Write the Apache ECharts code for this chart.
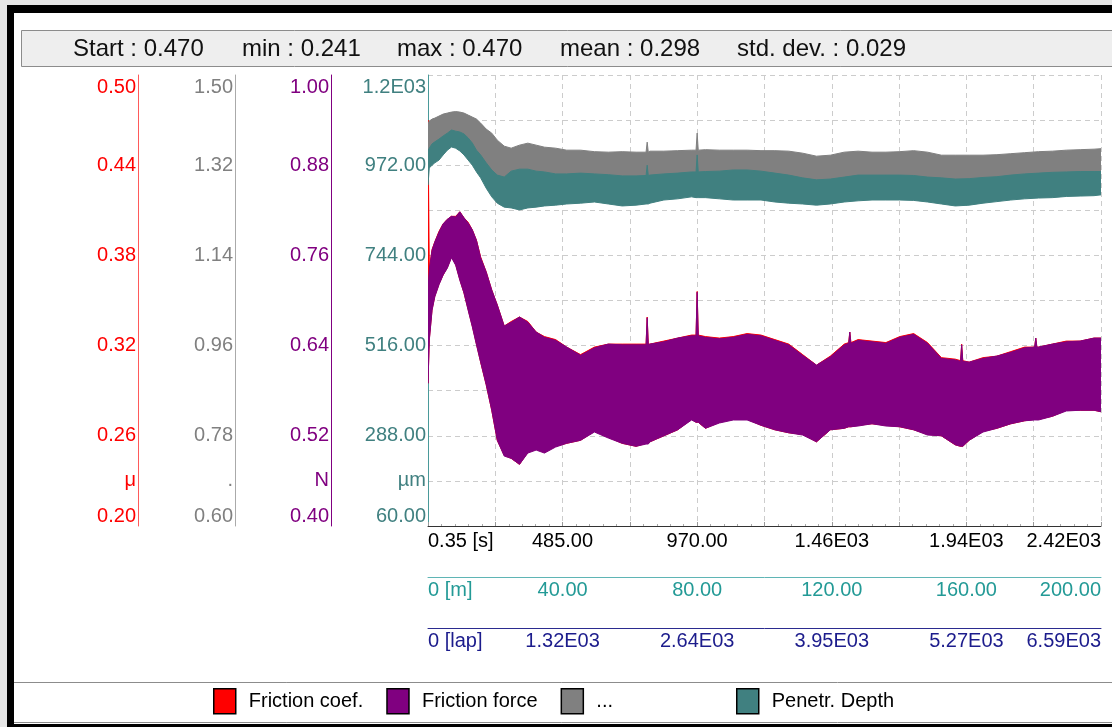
<!DOCTYPE html>
<html>
<head>
<meta charset="utf-8">
<script src="https://cdn.jsdelivr.net/npm/echarts@6/dist/echarts.min.js"></script>
<style>
html,body{margin:0;padding:0;background:#fff;}
#chart{width:1112px;height:727px;}
</style>
</head>
<body>
<div id="chart"></div>
<script>
// ---------- data ----------
const depthTime = [0.35,5,15,25,40,55,70,85,100,115,130,145,160,175,190,210,230,250,275,300,330,360,390,420,460,500,550,600,650,700,750,786,790,794,800,850,900,950,966,970,974,1000,1050,1100,1150,1200,1250,1300,1350,1400,1450,1500,1550,1600,1650,1700,1750,1800,1850,1900,1950,2000,2050,2100,2150,2200,2250,2300,2350,2400,2425];
const auxHigh = [1.402,1.408,1.412,1.414,1.418,1.422,1.424,1.426,1.427,1.426,
  1.424,1.420,1.416,1.412,1.404,1.392,1.384,1.370,1.358,1.354,
  1.360,1.364,1.360,1.356,1.354,1.350,1.350,1.347,1.346,1.347,
  1.346,1.346,1.366,1.346,1.348,1.348,1.349,1.350,1.350,1.384,
  1.350,1.351,1.350,1.350,1.350,1.349,1.349,1.348,1.344,1.338,
  1.340,1.346,1.348,1.346,1.346,1.347,1.349,1.346,1.340,1.340,
  1.340,1.340,1.341,1.343,1.345,1.347,1.348,1.350,1.351,1.352,1.353];
const auxLow = [1.344,1.348,1.356,1.360,1.366,1.372,1.378,1.384,1.382,1.380,
  1.376,1.368,1.358,1.344,1.334,1.318,1.304,1.294,1.290,1.302,
  1.306,1.306,1.302,1.300,1.296,1.296,1.298,1.296,1.295,1.292,
  1.292,1.293,1.293,1.293,1.294,1.296,1.298,1.300,1.300,1.300,
  1.300,1.301,1.302,1.304,1.304,1.302,1.298,1.294,1.288,1.284,
  1.286,1.290,1.294,1.294,1.294,1.294,1.293,1.290,1.288,1.286,
  1.287,1.289,1.291,1.294,1.296,1.298,1.299,1.300,1.301,1.301,1.301];
const depthHigh = [1010,1015,1026,1031,1038,1046,1053,1061,1058,1056,
  1051,1041,1028,1010,998,978,960,947,942,957,
  962,962,957,955,950,950,952,950,948,945,
  945,946,972,946,947,950,952,955,955,998,
  955,956,957,960,960,957,952,947,940,935,
  937,942,947,947,947,947,946,942,940,937,
  938,941,943,947,950,952,954,955,956,956,956];
const depthLow = [922,965,972,978,985,998,1010,1018,1015,1008,
  998,985,972,955,940,914,892,876,866,864,
  859,864,866,869,871,874,876,879,874,869,
  871,874,874,874,876,884,887,892,890,890,
  890,890,887,884,884,884,879,876,874,871,
  874,879,882,884,884,884,883,879,874,869,
  871,876,880,884,887,889,890,893,894,895,897];

const forceTime = [0.35,5,15,25,40,55,70,85,100,115,130,145,160,175,190,210,230,250,275,300,330,360,390,420,460,500,550,600,650,700,750,786,790,794,800,850,900,950,966,970,974,1000,1050,1100,1150,1200,1250,1300,1350,1400,1450,1500,1516,1520,1524,1550,1600,1650,1700,1750,1800,1850,1900,1919,1923,1927,1950,2000,2050,2100,2150,2186,2190,2194,2200,2250,2300,2350,2400,2425];
const forceHigh = [0.714,0.741,0.767,0.778,0.791,0.802,0.808,0.812,0.811,0.818,
  0.810,0.803,0.794,0.780,0.757,0.738,0.714,0.694,0.666,0.671,
  0.678,0.671,0.658,0.651,0.647,0.638,0.627,0.637,0.642,0.641,
  0.641,0.641,0.677,0.641,0.642,0.645,0.650,0.653,0.653,0.711,
  0.653,0.651,0.649,0.651,0.655,0.653,0.647,0.641,0.627,0.614,
  0.625,0.641,0.643,0.658,0.643,0.647,0.645,0.643,0.651,0.655,
  0.643,0.623,0.621,0.619,0.641,0.619,0.618,0.623,0.626,0.631,
  0.637,0.638,0.650,0.638,0.638,0.642,0.645,0.646,0.650,0.650];
const forceLow = [0.590,0.647,0.687,0.705,0.721,0.734,0.743,0.757,0.747,0.727,
  0.710,0.687,0.665,0.641,0.618,0.588,0.554,0.514,0.493,0.490,
  0.482,0.497,0.501,0.497,0.505,0.510,0.514,0.525,0.517,0.510,
  0.506,0.509,0.509,0.509,0.512,0.520,0.528,0.541,0.538,0.538,
  0.538,0.530,0.537,0.541,0.541,0.534,0.528,0.524,0.521,0.512,
  0.528,0.530,0.532,0.532,0.532,0.533,0.536,0.533,0.532,0.528,
  0.521,0.520,0.508,0.506,0.506,0.506,0.514,0.525,0.530,0.536,
  0.540,0.541,0.541,0.541,0.541,0.546,0.553,0.554,0.554,0.552];
const coefHigh = [0.470,0.371,0.384,0.389,0.396,0.401,0.404,0.406,0.406,0.409,
  0.405,0.402,0.397,0.390,0.379,0.369,0.357,0.347,0.333,0.336,
  0.339,0.336,0.329,0.326,0.324,0.319,0.314,0.319,0.321,0.321,
  0.321,0.321,0.339,0.321,0.321,0.323,0.325,0.327,0.327,0.356,
  0.327,0.326,0.325,0.326,0.328,0.327,0.324,0.321,0.314,0.307,
  0.313,0.321,0.322,0.329,0.322,0.324,0.323,0.322,0.326,0.328,
  0.322,0.312,0.311,0.310,0.321,0.310,0.309,0.312,0.313,0.316,
  0.319,0.319,0.325,0.319,0.319,0.321,0.323,0.323,0.325,0.325];
const coefLow = [0.295,0.324,0.344,0.353,0.361,0.367,0.372,0.379,0.374,0.364,
  0.355,0.344,0.333,0.321,0.309,0.294,0.277,0.257,0.247,0.245,
  0.241,0.249,0.251,0.249,0.253,0.255,0.257,0.263,0.259,0.255,
  0.253,0.255,0.255,0.255,0.256,0.260,0.264,0.271,0.269,0.269,
  0.269,0.265,0.269,0.271,0.271,0.267,0.264,0.262,0.261,0.256,
  0.264,0.265,0.266,0.266,0.266,0.267,0.268,0.267,0.266,0.264,
  0.261,0.260,0.254,0.253,0.253,0.253,0.257,0.263,0.265,0.268,
  0.270,0.271,0.271,0.271,0.271,0.273,0.277,0.277,0.277,0.276];

// tick values / labels
const timeTickValues = [0.35,485,970,1455,1940,2425];
const timeTickLabels = ['0.35 [s]','485.00','970.00','1.46E03','1.94E03','2.42E03'];
const distTickValues = [0,40,80,120,160,200];
const distTickLabels = ['0 [m]','40.00','80.00','120.00','160.00','200.00'];
const lapTickValues = [0,1318,2636,3954,5272,6590];
const lapTickLabels = ['0 [lap]','1.32E03','2.64E03','3.95E03','5.27E03','6.59E03'];
const coefTickValues = [0.20,0.23,0.26,0.32,0.38,0.44,0.50];
const coefTickLabels = ['0.20','μ','0.26','0.32','0.38','0.44','0.50'];
const auxTickValues = [0.60,0.69,0.78,0.96,1.14,1.32,1.50];
const auxTickLabels = ['0.60','.','0.78','0.96','1.14','1.32','1.50'];
const forceTickValues = [0.40,0.46,0.52,0.64,0.76,0.88,1.00];
const forceTickLabels = ['0.40','N','0.52','0.64','0.76','0.88','1.00'];
const depthTickValues = [60,174,288,516,744,972,1200];
const depthTickLabels = ['60.00','µm','288.00','516.00','744.00','972.00','1.2E03'];

const statNames = ['Start : 0.470','min : 0.241','max : 0.470','mean : 0.298','std. dev. : 0.029'];
const seriesNames = ['Friction coef.','Friction force','...','Penetr. Depth'];

// ---------- chart ----------
const FONT = '"Liberation Sans", Arial, Helvetica, sans-serif';
const C_RED = '#ff0000', C_PUR = '#800080', C_GRY = '#808080', C_TEAL = '#408080';

function nearest(values, v) {
  let bi = 0, bd = Infinity;
  values.forEach((x, i) => { const d = Math.abs(x - v); if (d < bd) { bd = d; bi = i; } });
  return bi;
}

function yAxisCfg(offset, min, max, values, labels, color, lineColor) {
  return {
    type: 'value', position: 'left', offset, min, max,
    splitLine: { show: false }, axisTick: { show: false },
    axisLine: { show: true, onZero: false, lineStyle: { color: lineColor, width: 1 } },
    axisLabel: {
      customValues: values,
      formatter: v => labels[nearest(values, v)],
      color, fontSize: 20, fontFamily: FONT, margin: 2, padding: [2, 0, 0, 0],
      verticalAlignMinLabel: 'bottom', verticalAlignMaxLabel: 'top'
    }
  };
}

function xAxisCfg(offset, min, max, values, labels, color, lineColor, margin) {
  return {
    type: 'value', position: 'bottom', offset, min, max,
    splitLine: { show: false }, axisTick: { show: false },
    axisLine: { show: true, onZero: false, lineStyle: { color: lineColor, width: 1 } },
    axisLabel: {
      customValues: values,
      formatter: v => labels[nearest(values, v)],
      color, fontSize: 20, fontFamily: FONT, margin,
      alignMinLabel: 'left', alignMaxLabel: 'right'
    }
  };
}

function band(name, times, hi, lo, yIdx, color) {
  return {
    type: 'custom', name, xAxisIndex: 0, yAxisIndex: yIdx,
    clip: true, itemStyle: { color },
    encode: { x: 0, y: [1, 2] },
    data: times.map((t, i) => [t, hi[i], lo[i]]),
    renderItem: function (params, api) {
      if (params.dataIndex !== 0) return null;
      const pts = [];
      for (let i = 0; i < times.length; i++) pts.push(api.coord([times[i], hi[i]]));
      for (let i = times.length - 1; i >= 0; i--) pts.push(api.coord([times[i], lo[i]]));
      return { type: 'polygon', shape: { points: pts },
        style: { fill: color, stroke: color, lineWidth: 1 } };
    }
  };
}

const statX = [73, 242, 397, 560, 737];
const graphics = [
  { type: 'rect', z: -10, shape: { x: 0, y: 0, width: 1112, height: 5 }, style: { fill: '#e6e6e6' } },
  { type: 'rect', z: -10, shape: { x: 0, y: 0, width: 7, height: 727 }, style: { fill: '#e6e6e6' } },
  { type: 'rect', z: 50, shape: { x: 7, y: 5, width: 1105, height: 8 }, style: { fill: '#000' } },
  { type: 'rect', z: 50, shape: { x: 7, y: 5, width: 7, height: 722 }, style: { fill: '#000' } },
  { type: 'rect', z: 50, shape: { x: 7, y: 724, width: 1105, height: 3 }, style: { fill: '#000' } },
  { type: 'rect', z: -5, shape: { x: 21.5, y: 30.5, width: 1100, height: 36 }, style: { fill: '#eeeeee', stroke: '#8c8c8c', lineWidth: 1 } },
  { type: 'rect', z: -5, shape: { x: 10.5, y: 682.5, width: 1110, height: 40 }, style: { fill: '#ffffff', stroke: '#8c8c8c', lineWidth: 1 } }
];
statNames.forEach((s, i) => graphics.push({
  type: 'text', z: 10, left: statX[i], top: 37,
  style: { text: s, fill: '#111', font: '24px ' + FONT }
}));

const legendBase = {
  top: 688, orient: 'horizontal', padding: 0,
  itemWidth: 22, itemHeight: 25, itemGap: 23, icon: 'rect',
  itemStyle: { borderColor: '#000', borderWidth: 1.5 },
  textStyle: { fontSize: 20, fontFamily: FONT, color: '#000', padding: [0, 0, 0, 8] },
  selectedMode: false
};

const option = {
  animation: false,
  backgroundColor: '#ffffff',
  grid: { left: 428, right: 11, top: 75, bottom: 201, containLabel: false },
  xAxis: [
    xAxisCfg(0, 0.35, 2425, timeTickValues, timeTickLabels, '#000000', '#333333', 5),
    xAxisCfg(51, 0, 200, distTickValues, distTickLabels, '#239a96', '#5fb5b5', 3),
    xAxisCfg(102, 0, 6590, lapTickValues, lapTickLabels, '#1c1c8c', '#2b2b8f', 3),
    { type: 'value', position: 'bottom', offset: 0, min: 0, max: 10, interval: 1,
      axisLine: { show: false }, axisLabel: { show: false },
      axisTick: { show: true, inside: true, length: 4, lineStyle: { color: '#999' } },
      minorTick: { show: true, splitNumber: 5, length: 2, lineStyle: { color: '#aaa' } },
      splitLine: { show: true, lineStyle: { color: '#cccccc', width: 1, type: [5, 4] } } }
  ],
  yAxis: [
    yAxisCfg(0, 60, 1200, depthTickValues, depthTickLabels, C_TEAL, '#4a9a9a'),
    yAxisCfg(97, 0.4, 1.0, forceTickValues, forceTickLabels, C_PUR, '#800080'),
    yAxisCfg(193, 0.6, 1.5, auxTickValues, auxTickLabels, C_GRY, '#aaaaaa'),
    yAxisCfg(290, 0.2, 0.5, coefTickValues, coefTickLabels, C_RED, '#ff5a5a'),
    { type: 'value', position: 'right', offset: 0, min: 0, max: 10, interval: 1,
      axisLine: { show: false }, axisLabel: { show: false }, axisTick: { show: false },
      splitLine: { show: true, lineStyle: { color: '#cccccc', width: 1, type: [5, 4] } } }
  ],
  legend: [
    Object.assign({}, legendBase, { left: 213, data: seriesNames.slice(0, 3) }),
    Object.assign({}, legendBase, { left: 736, data: seriesNames.slice(3) })
  ],
  graphic: graphics,
  series: [
    band(seriesNames[0], forceTime, coefHigh, coefLow, 3, C_RED),
    band(seriesNames[1], forceTime, forceHigh, forceLow, 1, C_PUR),
    band(seriesNames[2], depthTime, auxHigh, auxLow, 2, C_GRY),
    band(seriesNames[3], depthTime, depthHigh, depthLow, 0, C_TEAL)
  ]
};

const chart = echarts.init(document.getElementById('chart'), null, { renderer: 'canvas' });
chart.setOption(option);
</script>
</body>
</html>
